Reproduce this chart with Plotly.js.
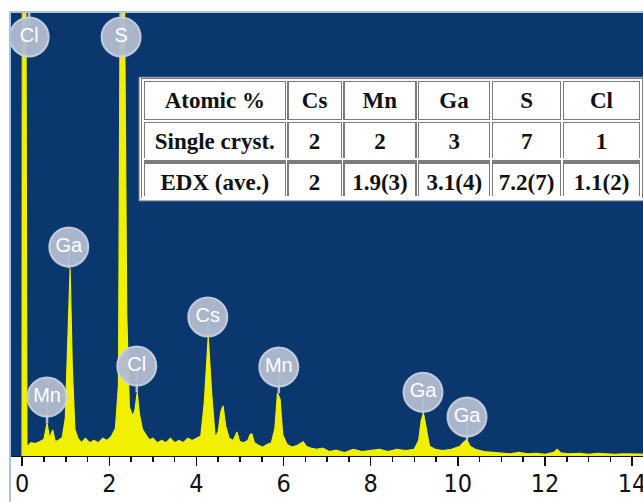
<!DOCTYPE html>
<html>
<head>
<meta charset="utf-8">
<script src="https://cdn.plot.ly/plotly-3.0.1.min.js"></script>
<style>html,body{margin:0;padding:0;background:#fff;}#chart{width:643px;height:502px;}</style>
</head>
<body>
<div id="chart"></div>
<script>
// EDX spectrum (energy in keV, counts in arbitrary units)
var energy = [0.00,0.02,0.08,0.11,0.20,0.30,0.40,0.50,0.57,0.63,0.70,0.76,0.84,0.92,0.99,1.04,1.10,1.15,1.21,1.28,1.36,1.45,1.55,1.65,1.75,1.85,1.95,2.05,2.14,2.21,2.26,2.33,2.40,2.46,2.54,2.59,2.64,2.69,2.76,2.84,2.92,3.00,3.10,3.20,3.30,3.40,3.50,3.60,3.70,3.80,3.90,4.00,4.10,4.18,4.27,4.35,4.43,4.50,4.56,4.61,4.67,4.75,4.84,4.89,4.93,4.99,5.08,5.18,5.23,5.27,5.33,5.42,5.52,5.62,5.72,5.80,5.86,5.92,5.98,6.08,6.20,6.32,6.40,6.45,6.52,6.62,6.76,6.90,7.05,7.20,7.40,7.60,7.80,8.00,8.20,8.40,8.60,8.80,9.00,9.10,9.16,9.21,9.27,9.35,9.48,9.65,9.85,10.05,10.15,10.21,10.28,10.40,10.60,10.80,11.00,11.20,11.40,11.60,11.80,12.00,12.20,12.28,12.36,12.55,12.80,13.00,13.20,13.40,13.60,13.80,14.00,14.30];
var counts = [0,1300,1300,20,30,28,32,38,74,40,59,32,36,42,85,260,424,200,60,40,30,40,30,35,30,40,35,45,62,160,1300,1300,320,110,90,105,144,95,60,48,36,40,30,35,30,40,30,35,30,40,35,40,45,120,269,140,42,55,100,113,68,40,35,45,54,33,30,35,48,50,30,24,20,26,30,62,142,128,48,26,20,24,28,32,22,18,15,18,10,13,8,15,10,12,15,10,15,12,15,35,80,97,65,22,15,12,15,22,33,36,22,15,10,8,6,5,8,5,6,4,8,15,7,5,6,4,6,5,4,5,4,4];

// Peak labels
var labelText = ["Cl","S","Ga","Mn","Cl","Cs","Mn","Ga","Ga"];
var labelEnergy = [0.16,2.27,1.07,0.57,2.63,4.26,5.89,9.20,10.21];
var labelLevel = [946,946,472,133,203,314,201,144,88];
var peakTop = [1000,1000,424,74,144,269,142,97,36];

// Composition table
var tableHeader = ["Atomic %","Cs","Mn","Ga","S","Cl"];
var rowSingle = ["Single cryst.","2","2","3","7","1"];
var rowEDX = ["EDX (ave.)","2","1.9(3)","3.1(4)","7.2(7)","1.1(2)"];

var stemX = [], stemY = [];
for (var i = 0; i < labelText.length; i++) {
  stemX.push(labelEnergy[i], labelEnergy[i], null);
  stemY.push(labelLevel[i], peakTop[i], null);
}

var bold = function(s){ return "<b>" + s + "</b>"; };
var cellCols = rowSingle.map(function(v, j){ return [bold(v), bold(rowEDX[j])]; });
var emptyCols = rowSingle.map(function(){ return ["",""]; });
var colW = [144,56,75,74,71,79];
var tDomain = {x:[0.210, 0.997], y:[0.582, 0.849]};

var traces = [
  {type:"scatter", mode:"lines", x:energy, y:counts, fill:"tozeroy",
   line:{color:"#f0f000", width:1.2}, fillcolor:"#f0f000", hoverinfo:"skip"},
  {type:"scatter", mode:"lines", x:stemX, y:stemY,
   line:{color:"#b4bdd0", width:2.5}, hoverinfo:"skip"},
  {type:"scatter", mode:"markers+text", x:labelEnergy, y:labelLevel, text:labelText,
   textposition:"middle center",
   marker:{symbol:"circle", size:39, color:"rgba(178,188,208,0.95)", line:{color:"rgba(205,212,226,0.9)", width:2}},
   textfont:{family:"Liberation Sans, Arial, sans-serif", size:20, color:"#ffffff"},
   cliponaxis:false, hoverinfo:"skip"},
  {type:"table", domain:tDomain, columnwidth:colW,
   header:{values:tableHeader.map(bold), height:41, align:"center",
     fill:{color:"#ffffff"}, line:{color:"#7c7c7c", width:4},
     font:{family:"Liberation Serif, Times New Roman, serif", size:23, color:"#111"}},
   cells:{values:cellCols, height:38, align:"center",
     fill:{color:"#ffffff"}, line:{color:"#7c7c7c", width:4},
     font:{family:"Liberation Serif, Times New Roman, serif", size:23, color:"#111"}}},
  {type:"table", domain:tDomain, columnwidth:colW,
   header:{values:["","","","","",""], height:41, fill:{color:"rgba(0,0,0,0)"}, line:{color:"#ffffff", width:1.5}},
   cells:{values:emptyCols, height:38, fill:{color:"rgba(0,0,0,0)"}, line:{color:"#ffffff", width:1.5}}}
];

var layout = {
  width:643, height:502,
  margin:{l:10, r:0, t:13, b:46, pad:0},
  paper_bgcolor:"#ffffff", plot_bgcolor:"#0a386e",
  showlegend:false,
  xaxis:{range:[-0.28,14.25], showgrid:false, zeroline:true, zerolinecolor:"#6e6e52", zerolinewidth:2,
    showline:true, linecolor:"#111", linewidth:1,
    ticks:"outside", ticklen:9, tickwidth:1.5, tickcolor:"#111", dtick:2, tick0:0,
    ticklabeloverflow:"allow", ticklabelstandoff:-4,
    minor:{dtick:0.5, ticks:"outside", ticklen:5, tickwidth:1.5, tickcolor:"#111"},
    tickfont:{family:"Liberation Sans Narrow, DejaVu Sans Condensed, Liberation Sans, sans-serif", size:25, color:"#111"}},
  yaxis:{range:[0,1000], showgrid:false, zeroline:false, showticklabels:false, ticks:""},
  shapes:[
    {type:"rect", xref:"paper", yref:"paper", x0:0.204, x1:1.01, y0:0.576, y1:0.855, layer:"below",
     fillcolor:"#ffffff", line:{color:"#9a9a9a", width:1}},
    {type:"line", xref:"paper", yref:"paper", x0:0, x1:0, y0:-0.11, y1:1.002, line:{color:"#a9c3e0", width:2}},
    {type:"line", xref:"paper", yref:"paper", x0:0, x1:1, y0:1.002, y1:1.002, line:{color:"#a9c3e0", width:2}}
  ]
};

Plotly.newPlot("chart", traces, layout, {staticPlot:true, displayModeBar:false});
</script>
</body>
</html>
